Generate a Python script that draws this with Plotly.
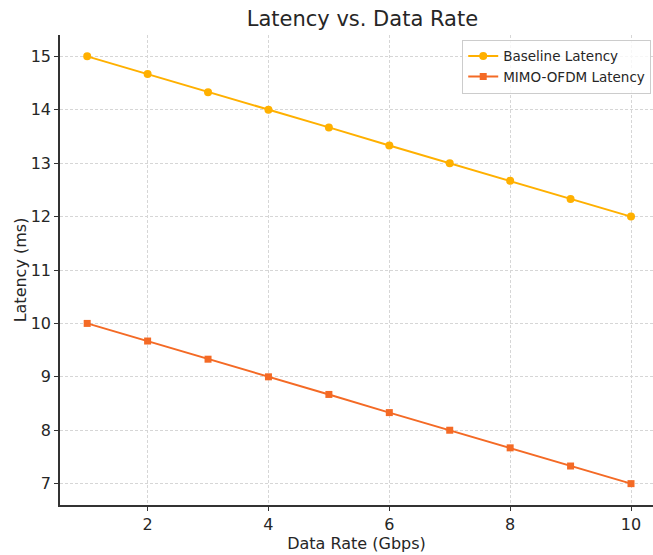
import plotly.graph_objects as go

data_rate = [1, 2, 3, 4, 5, 6, 7, 8, 9, 10]
baseline_latency = [15.0, 14.67, 14.33, 14.0, 13.67, 13.33, 13.0, 12.67, 12.33, 12.0]
mimo_latency = [10.0, 9.67, 9.33, 9.0, 8.67, 8.33, 8.0, 7.67, 7.33, 7.0]

FONT = "DejaVu Sans"

fig = go.Figure()
fig.add_trace(go.Scatter(x=data_rate, y=baseline_latency, mode="lines+markers",
                         name="Baseline Latency",
                         line=dict(color="#FFB000", width=2),
                         marker=dict(symbol="circle", size=8, color="#FFB000")))
fig.add_trace(go.Scatter(x=data_rate, y=mimo_latency, mode="lines+markers",
                         name="MIMO-OFDM Latency",
                         line=dict(color="#F46A25", width=2),
                         marker=dict(symbol="square", size=7, color="#F46A25")))

axis_common = dict(showgrid=True, gridcolor="#d6d6d6", griddash="3px,2px", gridwidth=1,
                   showline=True, linecolor="#333333", linewidth=1.5,
                   ticks="outside", ticklen=4, tickcolor="#333333",
                   tickfont=dict(family=FONT, size=16, color="#262626"),
                   zeroline=False, mirror=False)

fig.update_layout(
    width=653, height=555,
    margin=dict(l=60, r=0, t=35, b=50),
    paper_bgcolor="white", plot_bgcolor="white",
    title=dict(text="Latency vs. Data Rate", x=0.555, xanchor="center",
               y=0.966, yanchor="middle",
               font=dict(family=FONT, size=21, color="#262626")),
    xaxis=dict(range=[0.55, 10.364], tickvals=[2, 4, 6, 8, 10],
               title=dict(text="Data Rate (Gbps)", font=dict(family=FONT, size=16, color="#262626"),
                          standoff=5),
               **axis_common),
    yaxis=dict(range=[6.6, 15.4], tickvals=[7, 8, 9, 10, 11, 12, 13, 14, 15],
               title=dict(text="Latency (ms)", font=dict(family=FONT, size=16, color="#262626"),
                          standoff=0),
               **axis_common),
    legend=dict(x=0.997, y=0.99, xanchor="right", yanchor="top",
                bgcolor="rgba(255,255,255,0.8)", bordercolor="#cccccc", borderwidth=1,
                font=dict(family=FONT, size=13.5, color="#262626"),
                itemwidth=30, tracegroupgap=0),
    showlegend=True,
)

fig.write_html("out.html")
